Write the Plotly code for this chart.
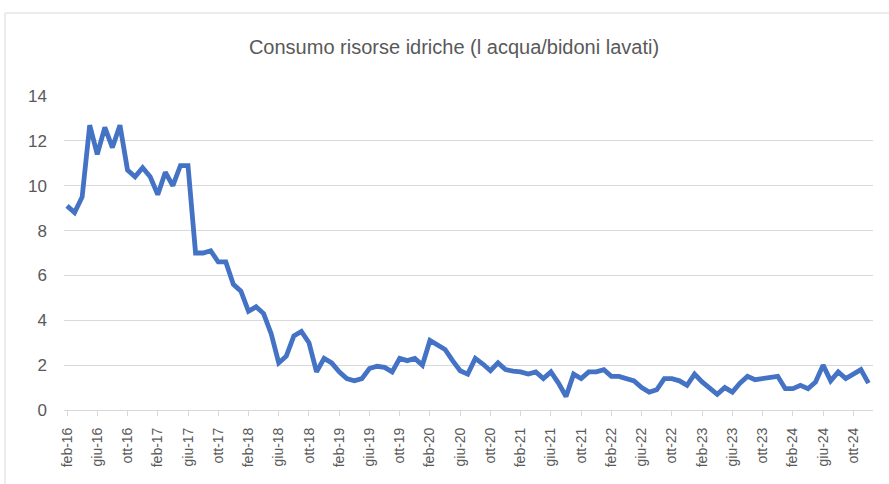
import plotly.graph_objects as go

MONTHS_IT = ["gen", "feb", "mar", "apr", "mag", "giu", "lug", "ago", "set", "ott", "nov", "dic"]

# monthly categories feb-16 .. dic-24
months = []
y, m = 2016, 1
while (y, m) <= (2024, 11):
    months.append(f"{MONTHS_IT[m]}-{str(y)[2:]}")
    m += 1
    if m == 12:
        m = 0
        y += 1

values = [
    9.1, 8.8, 9.5, 12.7, 11.4, 12.6, 11.7, 12.7, 10.7, 10.4, 10.8, 10.4,   # feb-16..gen-17
    9.6, 10.6, 10.0, 10.9, 10.9, 7.0, 7.0, 7.1, 6.6, 6.6, 5.6, 5.3,        # feb-17..gen-18
    4.4, 4.6, 4.3, 3.4, 2.1, 2.4, 3.3, 3.5, 3.0, 1.7, 2.3, 2.1,            # feb-18..gen-19
    1.7, 1.4, 1.3, 1.4, 1.85, 1.95, 1.9, 1.7, 2.3, 2.2, 2.3, 2.0,          # feb-19..gen-20
    3.1, 2.9, 2.7, 2.2, 1.75, 1.6, 2.3, 2.05, 1.75, 2.1, 1.8, 1.73,        # feb-20..gen-21
    1.7, 1.6, 1.7, 1.4, 1.7, 1.2, 0.6, 1.6, 1.4, 1.7, 1.7, 1.8,            # feb-21..gen-22
    1.5, 1.5, 1.4, 1.3, 1.0, 0.8, 0.9, 1.4, 1.4, 1.3, 1.1, 1.6,            # feb-22..gen-23
    1.25, 0.95, 0.7, 1.0, 0.8, 1.2, 1.5, 1.35, 1.4, 1.5, 1.5, 0.95,        # feb-23..gen-24
    0.95, 1.1, 0.95, 1.25, 2.0, 1.3, 1.7, 1.4, 1.6, 1.8, 1.2,              # feb-24..dic-24
]

tick_labels = months[::4]
y_ticks = [0, 2, 4, 6, 8, 10, 12, 14]

FONT = "Liberation Sans, Arial, sans-serif"
GRAY = "#595959"
GRID = "#d9d9d9"

fig = go.Figure()
fig.add_trace(go.Scatter(
    x=months, y=values, mode="lines",
    line=dict(color="#4472C4", width=4.8),
    hoverinfo="x+y",
))

W, H = 889, 484
L, R, T, B = 64, 16, 96, 74
pw, ph = W - L - R, H - T - B

fig.update_layout(
    width=W, height=H,
    margin=dict(l=L, r=R, t=T, b=B, pad=0),
    paper_bgcolor="white", plot_bgcolor="white",
    showlegend=False,
    font=dict(family=FONT, color=GRAY, size=13),
    title=dict(
        text="Consumo risorse idriche (l acqua/bidoni lavati)",
        x=454 / W, xanchor="center", y=1 - 47 / H, yanchor="middle",
        yref="container", xref="container",
        font=dict(family=FONT, size=20, color=GRAY),
    ),
    xaxis=dict(
        type="category", categoryorder="array", categoryarray=months,
        range=[-0.4, len(months) - 0.4],
        tickmode="array", tickvals=tick_labels, ticktext=tick_labels,
        tickangle=-90, ticks="outside", ticklen=5, tickcolor=GRID,
        ticklabelstandoff=6,
        showline=True, linecolor=GRID, linewidth=1,
        showgrid=False, zeroline=False, automargin=False,
        tickfont=dict(family=FONT, size=14, color=GRAY),
    ),
    yaxis=dict(
        range=[0, 14], tickvals=y_ticks,
        showgrid=True, gridcolor=GRID, gridwidth=1,
        zeroline=False, showline=False, ticks="",
        ticklabelstandoff=16, automargin=False,
        tickfont=dict(family=FONT, size=17, color=GRAY),
    ),
    shapes=[
        dict(type="line", xref="paper", yref="paper",
             x0=(5 - L) / pw, x1=(W + 5 - L) / pw,
             y0=(H - B - 13) / ph, y1=(H - B - 13) / ph,
             line=dict(color=GRID, width=1)),
        dict(type="line", xref="paper", yref="paper",
             x0=(5 - L) / pw, x1=(5 - L) / pw,
             y0=(H - B - 13) / ph, y1=-(B + 5) / ph,
             line=dict(color=GRID, width=1)),
    ],
)

fig.write_html("out.html", config={"displayModeBar": False},
               post_script="document.body.style.margin='0';")
